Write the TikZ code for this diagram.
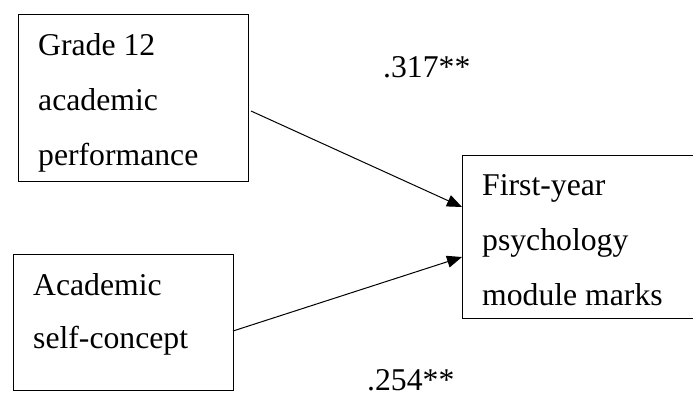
\documentclass[tikz,border=0pt]{standalone}
\usepackage{fontspec}
\setmainfont{Liberation Serif}
\usetikzlibrary{arrows.meta}
\begin{document}
\begin{tikzpicture}[x=1pt,y=-1pt,
  box/.style={draw, line width=1pt, inner sep=0pt, anchor=north west},
  lbl/.style={anchor=base west, inner sep=0pt, font=\fontsize{31.7}{38}\selectfont},
  conn/.style={line width=1pt, -{Triangle[length=15pt,width=12pt]}}]
\useasboundingbox (0,0) rectangle (693,392);
\node[box, minimum width=230pt, minimum height=167pt] (b1) at (18,14) {};
\node[box, minimum width=250pt, minimum height=163pt] (b3) at (462,155) {};
\node[box, minimum width=220pt, minimum height=136pt] (b2) at (13,254) {};
\node[lbl] (t1a) at (38,55) {Grade 12};
\node[lbl] (t1b) at (38,110) {academic};
\node[lbl] (t1c) at (38,165) {performance};
\node[lbl] (t2a) at (33,295) {Academic};
\node[lbl] (t2b) at (33,348) {self-concept};
\node[lbl] (t3a) at (482,195) {First-year};
\node[lbl] (t3b) at (482,250) {psychology};
\node[lbl] (t3c) at (482,305) {module marks};
\node[lbl] (l1) at (383,77) {.317**};
\node[lbl] (l2) at (367,390) {.254**};
\coordinate (s1) at (251,111);
\coordinate (e1) at (462,207);
\coordinate (s2) at (233,331);
\coordinate (e2) at (462,257);
\draw[conn] (s1) -- (e1);
\draw[conn] (s2) -- (e2);
\end{tikzpicture}
\end{document}
